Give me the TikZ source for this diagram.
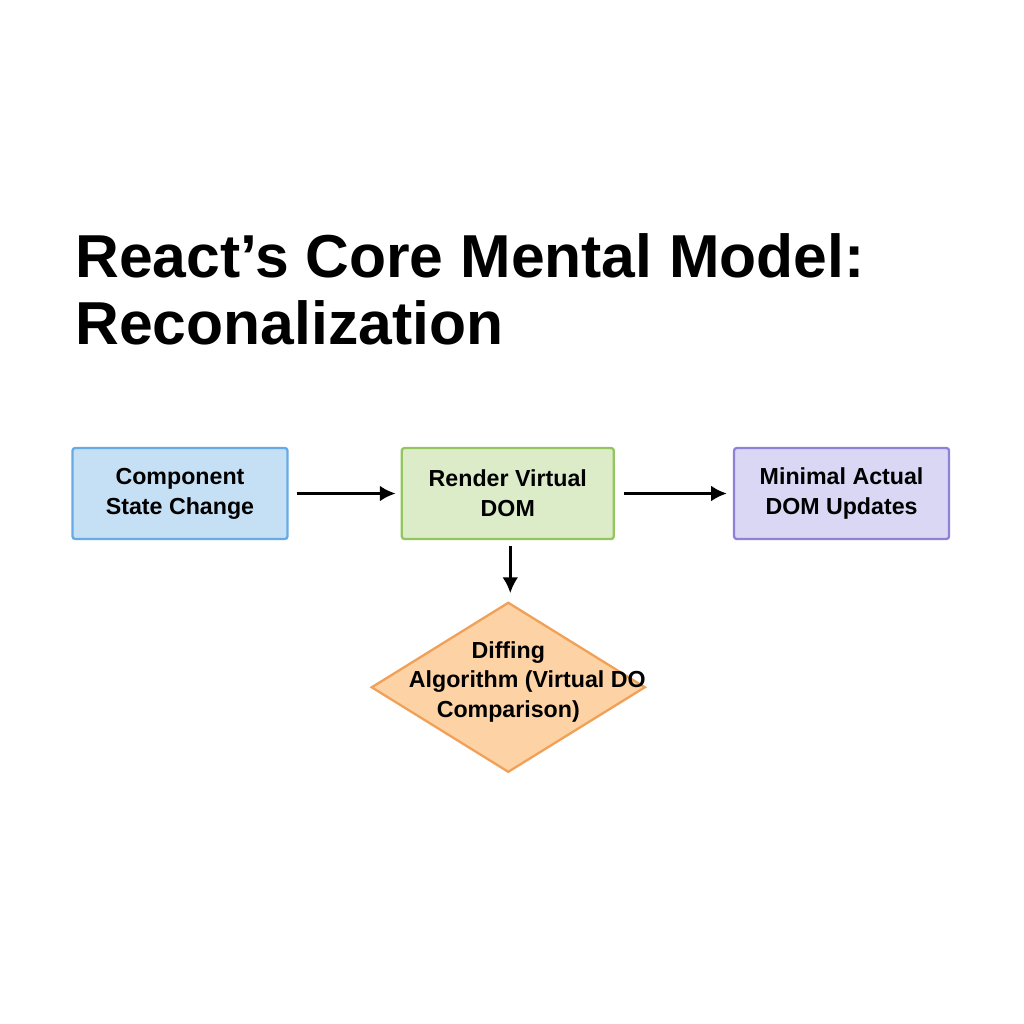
\documentclass[tikz,border=0pt]{standalone}
\usepackage{fontspec}
\setmainfont{Liberation Sans}
\usepackage{tikz}
\usetikzlibrary{positioning,shapes,arrows.meta,backgrounds,calc}
\definecolor{stateblue}{HTML}{C5E0F5}
\definecolor{stateline}{HTML}{66AAE6}
\definecolor{rendergreen}{HTML}{DDECC8}
\definecolor{renderline}{HTML}{93C65E}
\definecolor{domlilac}{HTML}{D9D7F4}
\definecolor{domline}{HTML}{8D82D8}
\definecolor{diffpeach}{HTML}{FDD2A4}
\definecolor{diffline}{HTML}{F0A157}
\tikzstyle{box} = [rectangle, draw, line width=1.3pt, rounded corners=1.5pt, %
   text centered, align=center, minimum width=4.3cm, minimum height=1.82cm, %
   font=\fontsize{13.2}{17}\selectfont\bfseries]
\tikzstyle{diam} = [diamond, draw, line width=1.3pt, fill=diffpeach, draw=diffline, %
   inner sep=0pt, minimum width=5.48cm, minimum height=3.4cm, %
   font=\fontsize{13.2}{17}\selectfont\bfseries]
\tikzstyle{title} = [anchor=base west, align=left, inner sep=0pt, %
   font=\fontsize{34.5}{37.6}\selectfont\bfseries]
\tikzstyle{line} = [draw, line width=1.6pt, -{Latex[length=9pt,width=9pt]}]

\begin{document}
\begin{tikzpicture}
   \useasboundingbox (0,0) rectangle (20.48,-20.48);
   \begin{scope}[on background layer]
      \fill[white] (0,0) rectangle (20.48,-20.48);
   \end{scope}

   % Place nodes
   \node[title](heading) at (1.5,-6.88){React’s Core Mental Model:\\Reconalization};

   \node[box, fill=stateblue, draw=stateline](state) at (3.6,-9.87){%
      Component\\State Change};
   \node[box, fill=rendergreen, draw=renderline, right=2.24cm of state, %
      minimum width=4.24cm](render){Render Virtual\\DOM};
   \node[box, fill=domlilac, draw=domline, right=2.36cm of render](updates){%
      Minimal Actual\\DOM Updates};

   \coordinate (difftop) at ($(render.south) + (0.05cm,0cm)$);
   \node[diam, below=1.22cm of difftop, anchor=north, xshift=-0.04cm](diff){%
      \makebox[0pt]{\raisebox{0pt}[0pt][0pt]{\begin{tabular}{@{}c@{}}%
      Diffing\\ \hspace*{0.76cm}Algorithm (Virtual DO\\ Comparison)\end{tabular}}}};

   % Draw edges
   \path [line, shorten <=0.16cm, shorten >=0.1cm] (state) -- (render);
   \path [line, shorten <=0.18cm, shorten >=0.12cm] (render) -- (updates);
   \path [line, shorten <=0.12cm, shorten >=0.16cm] (difftop) -- ($(diff.north)+(0.04cm,0)$);
\end{tikzpicture}
\end{document}
